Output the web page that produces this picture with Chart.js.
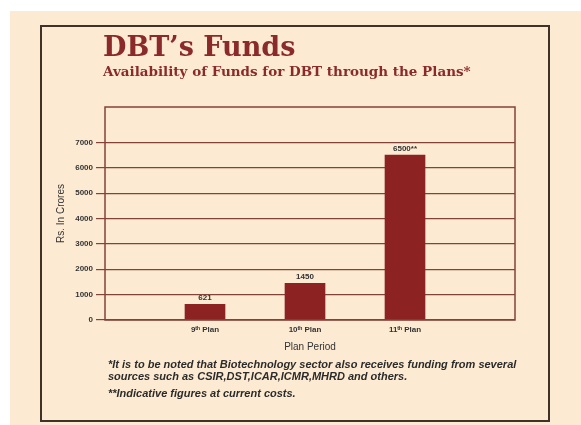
<!DOCTYPE html>
<html>
<head>
<meta charset="utf-8">
<script src="https://cdn.jsdelivr.net/npm/chart.js@4"></script>
<style>
  html, body { margin: 0; padding: 0; background: #ffffff; }
  #wrap { position: relative; width: 581px; height: 425px; overflow: hidden; background: #ffffff; }
  #cream { position: absolute; left: 10px; top: 11px; width: 571px; height: 414px; background: #fcebd2; }
  #box { position: absolute; left: 40px; top: 25px; width: 506px; height: 393px; border: 2px solid #3e3326; }
  #chart { position: absolute; left: 0; top: 0; }
  .t { position: absolute; white-space: nowrap; line-height: 1; }
  #title { left: 103px; top: 31px; font: bold 27px "DejaVu Serif", serif; color: #8b2a2a; }
  #subtitle { left: 103px; top: 63px; font: bold 13.5px "DejaVu Serif", serif; color: #8b2a2a; }
  .foot { left: 108px; font: italic bold 11px "Liberation Sans", Arial, sans-serif; color: #2b2b2b; }
</style>
</head>
<body>
<div id="wrap">
  <div id="cream"></div>
  <div id="box"></div>
  <canvas id="chart" width="581" height="425"></canvas>
  <div class="t" id="title">DBT’s Funds</div>
  <div class="t" id="subtitle">Availability of Funds for DBT through the Plans*</div>
  <div class="t foot" style="top:358px">*It is to be noted that Biotechnology sector also receives funding from several</div>
  <div class="t foot" style="top:370px">sources such as CSIR,DST,ICAR,ICMR,MHRD and others.</div>
  <div class="t foot" style="top:387px">**Indicative figures at current costs.</div>
</div>
<script>
const categories = ['9ᵗʰ Plan', '10ᵗʰ Plan', '11ᵗʰ Plan'];
const funds = [621, 1450, 6500];
const valueLabels = ['621', '1450', '6500**'];
const yTicks = [0, 1000, 2000, 3000, 4000, 5000, 6000, 7000];

const gridColor = '#84433a';

const valuePlugin = {
  id: 'valueLabels',
  afterDatasetsDraw(chart) {
    const ctx = chart.ctx;
    const meta = chart.getDatasetMeta(0);
    ctx.save();
    ctx.font = 'bold 8px "Liberation Sans", Arial, sans-serif';
    ctx.fillStyle = '#333333';
    ctx.textAlign = 'center';
    ctx.textBaseline = 'bottom';
    meta.data.forEach((bar, i) => {
      ctx.fillText(valueLabels[i], bar.x, bar.y - 2);
    });
    ctx.restore();
  }
};

const framePlugin = {
  id: 'frame',
  afterDraw(chart) {
    const a = chart.chartArea;
    const ctx = chart.ctx;
    ctx.save();
    ctx.strokeStyle = gridColor;
    ctx.lineWidth = 1.5;
    ctx.strokeRect(a.left, a.top, a.right - a.left, a.bottom - a.top);
    ctx.restore();
  }
};

new Chart(document.getElementById('chart'), {
  type: 'bar',
  data: {
    datasets: [{
      data: funds.map((v, i) => ({ x: i + 1, y: v })),
      backgroundColor: '#8c2222',
      barThickness: 40
    }]
  },
  options: {
    responsive: false,
    animation: false,
    layout: { padding: { left: 50, right: 66, top: 107, bottom: 65 } },
    plugins: { legend: { display: false }, tooltip: { enabled: false } },
    scales: {
      x: {
        type: 'linear',
        min: 0,
        max: 4.1,
        offset: false,
        afterBuildTicks: s => { s.ticks = categories.map((c, i) => ({ value: i + 1 })); },
        afterFit: s => { s.height = 40; },
        grid: { display: false, drawTicks: false, offset: false },
        border: { display: false },
        ticks: {
          padding: 5,
          color: '#333333',
          font: { family: '"Liberation Sans", Arial, sans-serif', size: 8, weight: 'bold' },
          callback: v => categories[v - 1]
        },
        title: {
          display: true,
          text: 'Plan Period',
          color: '#333333',
          font: { family: '"Liberation Sans", Arial, sans-serif', size: 10 },
          padding: { top: 0, bottom: 7 }
        }
      },
      y: {
        min: 0,
        max: 8400,
        afterBuildTicks: s => { s.ticks = yTicks.map(v => ({ value: v })); },
        afterFit: s => { s.width = 55; },
        grid: { color: gridColor, lineWidth: 1.2, tickLength: 9 },
        border: { display: false },
        ticks: {
          padding: 3,
          color: '#333333',
          font: { family: '"Liberation Sans", Arial, sans-serif', size: 8, weight: 'bold' },
          callback: v => String(v)
        },
        title: {
          display: true,
          text: 'Rs. In Crores',
          color: '#333333',
          font: { family: '"Liberation Sans", Arial, sans-serif', size: 10 },
          padding: { top: 5, bottom: 0 }
        }
      }
    }
  },
  plugins: [valuePlugin, framePlugin]
});
</script>
</body>
</html>
